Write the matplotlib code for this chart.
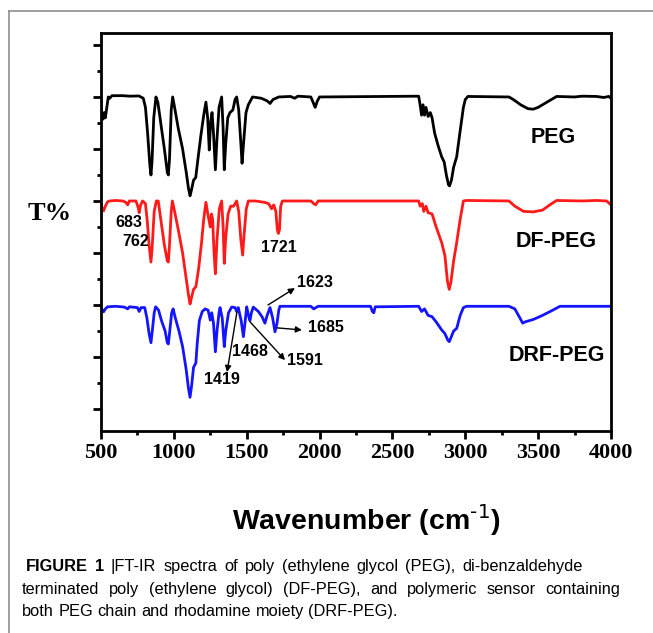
import matplotlib
matplotlib.use("Agg")
import matplotlib.pyplot as plt
from matplotlib.lines import Line2D

# wavenumber (cm-1) / offset transmittance
peg_wn = [500, 505, 515, 522, 530, 540, 550, 560, 575, 650, 700, 760, 790, 805, 820, 835, 843, 850, 862, 877,
          890, 910, 935, 955, 962, 970, 982, 992, 1005, 1030, 1060, 1085, 1100, 1111, 1120, 1135, 1150, 1165,
          1185, 1205, 1220, 1232, 1243, 1252, 1262, 1272, 1285, 1295, 1310, 1328, 1338, 1346, 1356, 1370, 1385,
          1405, 1420, 1431, 1445, 1460, 1468, 1478, 1495, 1511, 1540, 1600, 1640, 1660, 1680, 1720, 1800, 1830,
          1850, 1940, 1955, 1970, 1985, 2000, 2680, 2690, 2700, 2710, 2720, 2730, 2745, 2760, 2772, 2790, 2815,
          2838, 2855, 2870, 2885, 2892, 2905, 2920, 2941, 2960, 2987, 3000, 3018, 3300, 3330, 3380, 3430, 3466,
          3500, 3560, 3627, 3750, 3800, 3900, 3950, 3985, 4000]
peg_t = [11.9, 11.3, 11.15, 11.4, 11.2, 11.6, 12.0, 11.95, 12.05, 12.05, 12.03, 12.04, 11.95, 11.6, 10.6, 9.4,
         9.0, 9.5, 11.2, 12.0, 11.8, 11.0, 10.0, 9.1, 9.0, 9.6, 11.5, 12.0, 11.6, 10.8, 10.0, 9.1, 8.5, 8.2,
         8.4, 8.8, 8.9, 9.6, 10.5, 11.3, 11.8, 11.2, 9.96, 11.0, 11.4, 10.6, 9.2, 10.3, 11.6, 12.0, 10.8, 9.2,
         10.2, 11.2, 11.4, 11.5, 11.9, 12.0, 11.5, 10.2, 9.45, 10.2, 11.4, 11.7, 12.0, 11.95, 11.85, 11.75,
         11.9, 12.0, 12.02, 11.95, 12.03, 12.0, 11.8, 11.6, 11.85, 12.0, 12.03, 11.7, 11.3, 11.7, 11.3, 11.6,
         11.25, 11.4, 11.2, 10.6, 10.1, 9.7, 9.5, 9.0, 8.62, 8.58, 8.8, 9.3, 9.7, 10.5, 11.6, 11.9, 12.02,
         12.0, 11.9, 11.7, 11.55, 11.53, 11.6, 11.8, 12.02, 12.0, 12.03, 12.02, 11.98, 12.02, 11.95]

df_wn = [500, 510, 518, 530, 545, 560, 600, 650, 670, 683, 695, 740, 755, 762, 772, 785, 805, 818, 830, 843,
         852, 865, 880, 893, 910, 935, 955, 962, 970, 982, 990, 1005, 1030, 1060, 1085, 1100, 1111, 1122,
         1135, 1151, 1170, 1190, 1205, 1220, 1233, 1250, 1258, 1266, 1276, 1285, 1296, 1312, 1328, 1338,
         1346, 1356, 1372, 1390, 1410, 1431, 1445, 1460, 1472, 1482, 1497, 1511, 1560, 1620, 1650, 1671,
         1685, 1700, 1710, 1717, 1725, 1733, 1745, 1940, 1960, 1973, 1990, 2680, 2690, 2705, 2715, 2730,
         2745, 2772, 2800, 2838, 2860, 2878, 2890, 2902, 2920, 2941, 2965, 2987, 3010, 3300, 3340, 3400,
         3466, 3530, 3580, 3627, 3800, 3900, 3970, 4000]
df_t = [7.85, 7.7, 7.62, 7.8, 7.97, 8.0, 8.02, 8.0, 7.95, 7.85, 8.0, 8.0, 7.75, 7.55, 7.85, 8.0, 7.9, 7.2,
        6.3, 5.65, 6.3, 7.6, 8.0, 8.0, 7.3, 6.3, 5.7, 5.65, 6.3, 7.6, 8.0, 7.6, 6.9, 6.0, 5.0, 4.4, 4.04,
        4.3, 4.6, 4.7, 5.4, 6.4, 7.3, 7.95, 7.5, 7.0, 7.5, 7.3, 6.0, 5.2, 6.5, 7.7, 8.0, 7.0, 5.6, 6.6, 7.5,
        7.8, 7.8, 8.0, 7.6, 6.5, 5.92, 6.7, 7.7, 8.0, 8.0, 7.95, 7.9, 7.7, 7.85, 7.6, 6.9, 6.75, 6.9, 7.8,
        8.0, 8.0, 7.9, 7.85, 8.0, 8.0, 7.8, 7.9, 7.6, 7.8, 7.55, 7.5, 7.0, 6.4, 5.9, 4.9, 4.6, 4.9, 5.7,
        6.4, 7.3, 8.0, 8.02, 8.0, 7.8, 7.6, 7.58, 7.65, 7.85, 8.02, 8.0, 8.02, 8.0, 7.85]

drf_wn = [500, 510, 518, 530, 545, 600, 660, 683, 695, 750, 762, 775, 800, 815, 830, 843, 852, 865, 875, 895,
          915, 940, 955, 962, 970, 985, 995, 1010, 1035, 1060, 1085, 1100, 1111, 1122, 1135, 1151, 1160,
          1175, 1195, 1215, 1235, 1250, 1260, 1272, 1285, 1296, 1310, 1317, 1332, 1346, 1356, 1375, 1397,
          1420, 1431, 1442, 1462, 1477, 1488, 1500, 1512, 1522, 1532, 1545, 1580, 1605, 1625, 1640, 1660,
          1678, 1694, 1708, 1720, 1728, 1940, 1960, 1975, 1990, 2350, 2362, 2372, 2382, 2680, 2700, 2720,
          2745, 2772, 2800, 2838, 2860, 2880, 2890, 2902, 2920, 2941, 2965, 2987, 3010, 3300, 3340, 3380,
          3394, 3410, 3470, 3530, 3600, 3650, 3800, 4000]
drf_t = [3.9, 3.8, 3.74, 3.85, 3.93, 3.95, 3.92, 3.85, 3.93, 3.9, 3.75, 3.9, 3.9, 3.5, 2.9, 2.55, 3.0, 3.7,
         3.93, 3.8, 3.4, 3.0, 2.55, 2.5, 2.9, 3.7, 3.85, 3.5, 3.0, 2.4, 1.5, 0.8, 0.45, 0.9, 1.6, 1.77, 2.5,
         3.4, 3.75, 3.85, 3.8, 3.42, 3.7, 3.3, 2.2, 3.0, 3.7, 3.9, 3.5, 2.4, 3.0, 3.7, 3.92, 3.9, 3.75, 3.9,
         3.4, 2.78, 3.3, 3.93, 3.6, 3.4, 3.7, 3.92, 3.75, 3.55, 3.3, 3.6, 3.9, 3.5, 2.97, 3.3, 3.8, 3.95,
         3.95, 3.85, 3.9, 3.95, 3.95, 3.75, 3.7, 3.93, 3.95, 3.75, 3.85, 3.6, 3.55, 3.35, 3.04, 2.9, 2.65,
         2.59, 2.75, 3.0, 3.1, 3.6, 3.9, 3.95, 3.95, 3.85, 3.45, 3.3, 3.35, 3.45, 3.6, 3.8, 3.95, 3.95, 3.95]

series_names = ["PEG", "DF-PEG", "DRF-PEG"]
series_colors = ["black", "#ff1a1a", "#1414ff"]

caption_lines = ["FIGURE 1 |FT-IR spectra of poly (ethylene glycol (PEG), di-benzaldehyde",
                 "terminated poly (ethylene glycol) (DF-PEG), and polymeric sensor containing",
                 "both PEG chain and rhodamine moiety (DRF-PEG)."]

W, H = 653, 633
fig = plt.figure(figsize=(W / 100, H / 100), dpi=100)
ax = fig.add_axes([101 / W, 202 / H, 510 / W, 398 / H])

for wn, t, c in zip([peg_wn, df_wn, drf_wn], [peg_t, df_t, drf_t], series_colors):
    ax.plot(wn, t, color=c, lw=2.0, solid_joinstyle="round")

ax.set_xlim(500, 4000)
ax.set_ylim(-0.846, 14.46)
ax.set_xticks(range(500, 4001, 500))
ax.set_xticks(range(750, 4000, 500), minor=True)
ax.set_yticks(range(0, 15, 2))
ax.set_yticks(range(1, 15, 2), minor=True)
ax.set_yticklabels([])
ax.tick_params(which="both", direction="out", width=2, top=False, right=False)
ax.tick_params(which="major", length=5.5)
ax.tick_params(which="minor", length=3)
ax.tick_params(axis="x", pad=3.5)
for lab in ax.get_xticklabels():
    lab.set_fontfamily("Liberation Serif")
    lab.set_fontweight("bold")
    lab.set_fontsize(16)
for s in ax.spines.values():
    s.set_linewidth(2)

ax.set_xlabel(r"Wavenumber (cm$^{\text{-1}}$)", fontfamily="Liberation Sans", fontweight="bold",
              fontsize=20.5, labelpad=28)
ax.xaxis.label.set_x(0.52)
fig.text(50 / W, 1 - 213 / H, "T%", fontfamily="Liberation Serif", fontweight="bold",
         fontsize=19, ha="center", va="center")

# series names
for name, (x, y) in zip(series_names, [(3602, 10.46), (3623, 6.46), (3630, 2.04)]):
    ax.text(x, y, name, fontfamily="Liberation Sans", fontweight="bold", fontsize=15.5,
            ha="center", va="center")

# peak labels
lab_kw = dict(fontfamily="Liberation Sans", fontweight="bold", fontsize=11.5, ha="center", va="center")
ax.text(692, 7.19, "683", **lab_kw)
ax.text(740, 6.46, "762", **lab_kw)
ax.text(1722, 6.23, "1721", **lab_kw)
ax.text(1523, 2.23, "1468", **lab_kw)
arr = dict(arrowstyle="-|>", color="black", lw=1.0, mutation_scale=9, shrinkA=0, shrinkB=0)
ax.annotate("", xy=(1831, 4.65), xytext=(1646, 4.0), arrowprops=arr)
ax.text(1969, 4.85, "1623", **lab_kw)
ax.annotate("", xy=(1879, 3.04), xytext=(1708, 3.12), arrowprops=arr)
ax.text(2044, 3.12, "1685", **lab_kw)
ax.annotate("", xy=(1763, 1.88), xytext=(1523, 3.35), arrowprops=arr)
ax.text(1900, 1.88, "1591", **lab_kw)
ax.annotate("", xy=(1365, 1.42), xytext=(1433, 3.73), arrowprops=arr)
ax.text(1330, 1.12, "1419", **lab_kw)

# page frame
fig.add_artist(Line2D([8.5 / W, 8.5 / W], [0, 1 - 11 / H], transform=fig.transFigure,
                      color="#8f8f8f", lw=1.2))
fig.add_artist(Line2D([8.5 / W, 1], [1 - 11 / H, 1 - 11 / H], transform=fig.transFigure,
                      color="#8f8f8f", lw=1.2))

# caption, first two lines justified
renderer = fig.canvas.get_renderer()
cap_kw = dict(fontfamily="Liberation Sans", fontsize=11.8, va="baseline", ha="left")


def put_line(line, y, x0, x1=None):
    words = line.split(" ")
    texts = []
    for i, w in enumerate(words):
        bold = line.startswith("FIGURE") and i < 2
        texts.append(fig.text(0, 1 - y / H, w, fontweight="bold" if bold else "normal", **cap_kw))
    widths = [t.get_window_extent(renderer).width for t in texts]
    space = texts[0].get_fontsize() * 100 / 72 * 0.278
    if x1 is not None:
        space = (x1 - x0 - sum(widths)) / (len(words) - 1)
    x = x0
    for t, w in zip(texts, widths):
        t.set_x(x / W)
        x += w + space


put_line(caption_lines[0], 571, 26, 583)
put_line(caption_lines[1], 594, 22, 620)
put_line(caption_lines[2], 616, 22)

fig.savefig("out.png", dpi=100)
